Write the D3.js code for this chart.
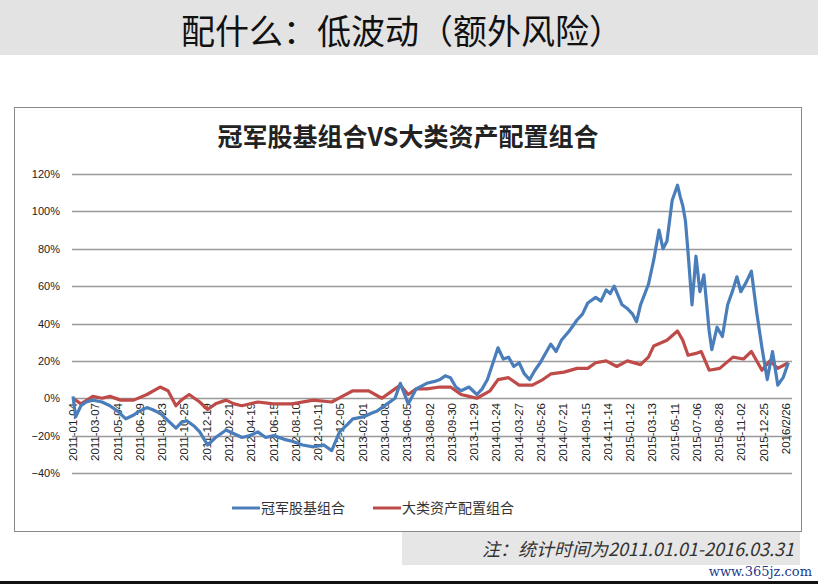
<!DOCTYPE html>
<html><head><meta charset="utf-8">
<script src="https://cdn.jsdelivr.net/npm/d3@7/dist/d3.min.js"></script>
<style>body{margin:0;background:#fff}</style></head>
<body><svg id="c" width="818" height="584"></svg>
<script>
const categories=["2011-01-04","2011-03-07","2011-05-04","2011-06-29","2011-08-23","2011-10-25","2011-12-19","2012-02-21","2012-04-19","2012-06-15","2012-08-10","2012-10-11","2012-12-05","2013-02-01","2013-04-08","2013-06-05","2013-08-02","2013-09-30","2013-11-29","2014-01-24","2014-03-27","2014-05-26","2014-07-21","2014-09-15","2014-11-14","2015-01-12","2015-03-13","2015-05-11","2015-07-06","2015-08-28","2015-11-02","2015-12-25","2016/2/26"];
const yTicks=[-0.4,-0.2,0,0.2,0.4,0.6,0.8,1.0,1.2];
// time in "periods" from start (0) to end of sample (27.2)
const blueT=[0,0.1,0.3,0.5,0.75,1.1,1.4,1.7,2.0,2.3,2.5,2.8,3.0,3.3,3.6,3.9,4.1,4.3,4.6,4.8,5.1,5.4,5.8,6.1,6.4,6.7,7.0,7.3,7.6,8.0,8.3,8.7,9.1,9.5,9.8,10.1,10.4,10.6,11.0,11.3,11.5,11.9,12.2,12.4,12.7,13.0,13.4,13.7,13.9,14.1,14.3,14.5,14.7,15.0,15.3,15.5,15.7,16.1,16.3,16.5,16.7,16.9,17.1,17.3,17.5,17.7,18.1,18.3,18.5,18.8,19.1,19.3,19.5,19.8,20.0,20.2,20.35,20.5,20.8,21.0,21.2,21.35,21.5,21.8,22.0,22.2,22.35,22.5,22.7,22.9,23.0,23.1,23.2,23.3,23.45,23.6,23.75,23.9,24.1,24.2,24.4,24.6,24.8,25.0,25.15,25.3,25.5,25.7,25.9,26.1,26.3,26.5,26.7,26.9,27.1];
const blueV=[1,-10,-4,-2,-1,-2,-4,-7,-11,-9,-7,-5,-6,-8,-12,-16,-13,-12,-15,-18,-25,-21,-17,-19,-21,-20,-18,-21,-20,-22,-23,-25,-26,-25,-28,-18,-14,-11,-10,-8,-7,-3,0,8,-3,5,8,9,10,12,11,6,4,6,2,5,10,27,21,22,17,19,13,10,15,19,29,25,31,36,42,45,51,54,52,58,56,60,50,48,45,41,50,61,74,90,80,84,106,114,108,103,95,78,50,76,57,66,36,26,38,33,50,58,65,57,62,68,46,27,10,25,7,11,19];
const redT=[0,0.3,0.75,1.1,1.4,1.8,2.3,2.8,3.3,3.6,3.9,4.1,4.4,4.8,5.1,5.4,5.8,6.1,6.4,7.0,7.6,8.3,9.1,9.8,10.2,10.6,11.2,11.7,12.0,12.4,12.7,13.0,13.4,13.9,14.3,14.7,15.0,15.3,15.8,16.1,16.5,16.9,17.4,17.8,18.1,18.6,19.1,19.5,19.8,20.2,20.6,21.0,21.5,21.8,22.0,22.5,22.9,23.1,23.3,23.6,23.8,24.1,24.5,25.0,25.4,25.7,26.1,26.4,26.7,27.1];
const redV=[0,-3,1,0,1,-1,-1,2,6,4,-4,-1,2,-2,-6,-3,-1,-3,-4,-2,-3,-3,-1,-2,1,4,4,0,3,7,2,5,5,6,6,2,1,0,4,10,11,7,7,10,13,14,16,16,19,20,17,20,18,22,28,31,36,31,23,24,25,15,16,22,21,25,15,20,16,19];
const seriesNames=["冠军股基组合","大类资产配置组合"];
const colors=["#4a7ebb","#be4b48"];

const svg=d3.select("#c");
const font="'Noto Sans CJK SC','Microsoft YaHei',sans-serif";
svg.append("rect").attr("x",0).attr("y",0).attr("width",818).attr("height",55).attr("fill","#e3e3e3");
svg.append("text").attr("x",402).attr("y",44).attr("text-anchor","middle").attr("font-family",font).attr("font-size",34).attr("fill","#111").text("配什么：低波动（额外风险）");
svg.append("rect").attr("x",14.5).attr("y",107.5).attr("width",787).attr("height",424).attr("fill","#fff").attr("stroke","#888");
svg.append("text").attr("x",408).attr("y",146).attr("text-anchor","middle").attr("font-family",font).attr("font-weight","bold").attr("font-size",25).attr("fill","#222").text("冠军股基组合VS大类资产配置组合");

const y=d3.scaleLinear().domain([-0.4,1.2]).range([473,174]);
const x=d3.scaleLinear().domain([0,categories.length-1]).range([73,786]);
const xp=d3.scaleLinear().domain([0,27.2]).range([73,791]);
svg.selectAll("line.grid").data(yTicks).join("line").attr("x1",72).attr("x2",792).attr("y1",d=>Math.round(y(d))+0.5).attr("y2",d=>Math.round(y(d))+0.5).attr("stroke","#999").attr("stroke-width",1.3);
const yAx=svg.append("g").attr("transform","translate(64,0)").call(d3.axisLeft(y).tickValues(yTicks).tickFormat(d3.format(".0%")).tickSize(0).tickPadding(4));
yAx.select(".domain").remove();
yAx.selectAll("text").attr("font-family","Arial,'Liberation Sans',sans-serif").attr("font-size",11).attr("fill","#222");
const xAx=svg.append("g").call(d3.axisBottom(x).tickValues(d3.range(categories.length)).tickFormat(i=>categories[i]).tickSize(0));
xAx.select(".domain").remove();
xAx.selectAll(".tick").attr("transform",i=>`translate(${x(i)},400)`);
xAx.selectAll(".tick text").attr("font-family","Arial,'Liberation Sans',sans-serif").attr("font-size",11.5).attr("fill","#222").attr("text-anchor","end").attr("transform","rotate(-90)").attr("x",-3).attr("y",0).attr("dy","0.35em");

const line=d3.line().x(d=>xp(d[0])).y(d=>y(d[1]/100));
[[redT,redV,1],[blueT,blueV,0]].forEach(([t,v,k])=>{
  svg.append("path").attr("d",line(t.map((d,i)=>[d,v[i]]))).attr("fill","none").attr("stroke",colors[k]).attr("stroke-width",3.2).attr("stroke-linejoin","round");
});
[[232,0],[373,1]].forEach(([lx,k])=>{
  svg.append("line").attr("x1",lx).attr("x2",lx+28).attr("y1",508).attr("y2",508).attr("stroke",colors[k]).attr("stroke-width",3);
  svg.append("text").attr("x",lx+29).attr("y",513).attr("font-family",font).attr("font-size",14).attr("fill","#333").text(seriesNames[k]);
});
svg.append("rect").attr("x",402).attr("y",532).attr("width",398).attr("height",33).attr("fill","#e6e6e6");
svg.append("text").attr("x",794).attr("y",556).attr("text-anchor","end").attr("font-family",font).attr("font-style","italic").attr("font-size",18).attr("fill","#333").text("注：统计时间为2011.01.01-2016.03.31");
svg.append("text").attr("x",812).attr("y",576).attr("text-anchor","end").attr("font-family","'DejaVu Serif',serif").attr("font-size",13).attr("fill","#1a3a8a").text("www.365jz.com");
svg.append("rect").attr("x",0).attr("y",581).attr("width",818).attr("height",3).attr("fill","#111");
</script></body></html>
